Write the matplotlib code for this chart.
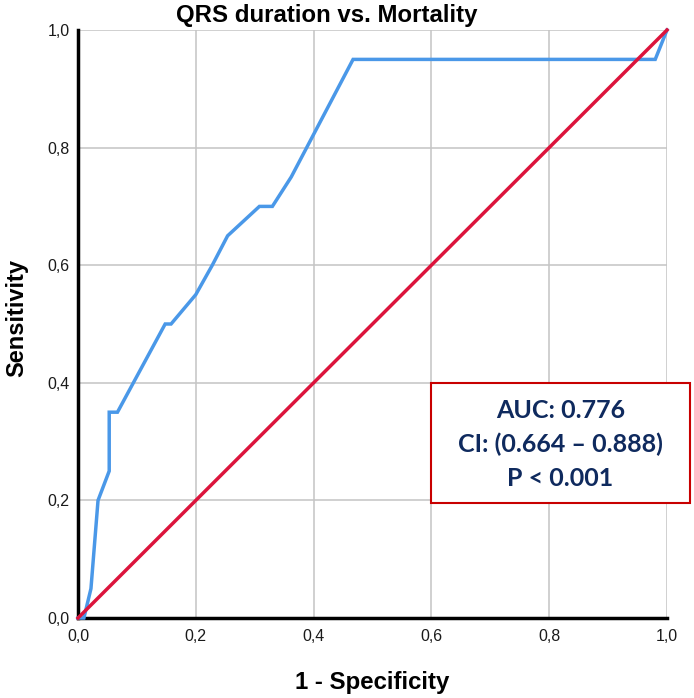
import matplotlib
matplotlib.use("Agg")
import matplotlib.pyplot as plt
from matplotlib.patches import Rectangle

# ---- data ----
fpr = [0.0, 0.01, 0.022, 0.034, 0.053, 0.053, 0.067, 0.148, 0.158, 0.20, 0.228,
       0.254, 0.308, 0.33, 0.362, 0.467, 0.98, 1.0]
tpr = [0.0, 0.0, 0.05, 0.20, 0.25, 0.35, 0.35, 0.50, 0.50, 0.55, 0.60,
       0.65, 0.70, 0.70, 0.75, 0.95, 0.95, 1.0]
ref_x = [0.0, 1.0]
ref_y = [0.0, 1.0]
ticks = [0.0, 0.2, 0.4, 0.6, 0.8, 1.0]
tick_labels = ["0,0", "0,2", "0,4", "0,6", "0,8", "1,0"]
title = "QRS duration vs. Mortality"
xlabel = "1 - Specificity"
ylabel = "Sensitivity"
stats_lines = ["AUC: 0.776", "CI: (0.664 \u2013 0.888)", "P < 0.001"]

W, H = 694, 698
fig = plt.figure(figsize=(W / 100, H / 100), dpi=100)
fig.patch.set_facecolor("white")

def fx(px):
    return px / W

def fy(py):
    return 1 - py / H

ax = fig.add_axes([fx(78), fy(618), 589 / W, 588 / H])
ax.set_xlim(0, 1)
ax.set_ylim(0, 1)

for t in ticks[1:]:
    ax.axvline(t, color="#C4C4C4", lw=1.1, zorder=1)
    ax.axhline(t, color="#C4C4C4", lw=1.1, zorder=1)

ax.plot(fpr, tpr, color="#4A98E8", lw=2.5, zorder=3, solid_joinstyle="miter", clip_on=False)
ax.plot(ref_x, ref_y, color="#DC143C", lw=2.5, zorder=4, clip_on=False)

for s in ["top", "right"]:
    ax.spines[s].set_visible(False)
for s in ["left", "bottom"]:
    ax.spines[s].set_linewidth(2.5)
    ax.spines[s].set_color("black")
    ax.spines[s].set_zorder(2)

ax.set_xticks(ticks)
ax.set_xticklabels(tick_labels)
ax.set_yticks(ticks)
ax.set_yticklabels(tick_labels)
ax.tick_params(length=0, labelsize=11.5, labelcolor="#1A1A1A")
ax.tick_params(axis="x", pad=8)
ax.tick_params(axis="y", pad=6)
for lab in ax.get_xticklabels() + ax.get_yticklabels():
    lab.set_family("Liberation Sans")

fig.text(fx(327), fy(22), title, ha="center", va="baseline", fontsize=17.3,
         weight="bold", family="Liberation Sans")
fig.text(fx(372.5), fy(689), xlabel, ha="center", va="baseline", fontsize=17.3,
         weight="bold", family="Liberation Sans")
fig.text(fx(23), fy(318), ylabel, ha="center", va="baseline", fontsize=17,
         weight="bold", family="Liberation Sans", rotation=90, rotation_mode="anchor")

box = Rectangle((fx(431), fy(503)), (690 - 431) / W, (503 - 383) / H,
                transform=fig.transFigure, facecolor="white", edgecolor="#C80000",
                lw=1.5, zorder=10)
fig.patches.append(box)
for i, line in enumerate(stats_lines):
    fig.text(fx(560.5), fy(410 + i * 34), line, ha="center", va="center",
             fontsize=18, weight="bold", family="Lato", color="#0F2A5E", zorder=11)

fig.savefig("out.png", dpi=100)
